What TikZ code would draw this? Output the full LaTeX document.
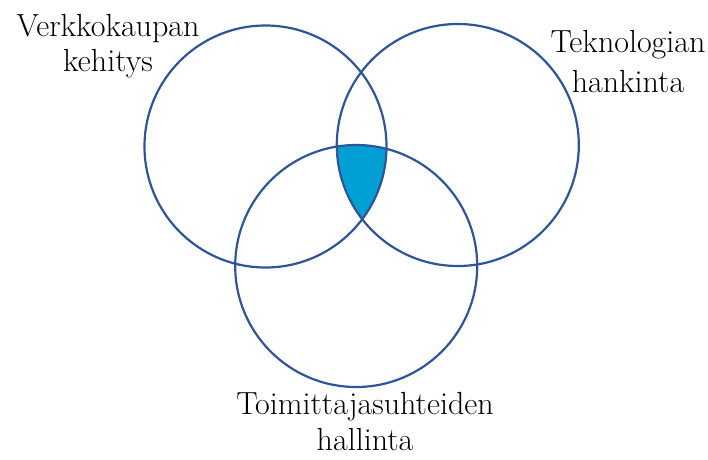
\documentclass[tikz,border=0pt]{standalone}
\usepackage{fontspec}
\usetikzlibrary{positioning}

\definecolor{ringblue}{RGB}{47,85,151}
\definecolor{coreblue}{RGB}{0,160,212}

\begin{document}
\begin{tikzpicture}[
    x=1pt, y=-1pt,
    ring/.style={
        circle, draw=ringblue, line width=2.2pt, minimum size=242pt, inner sep=0pt
    },
    lbl/.style={
        font=\fontsize{32}{37}\selectfont, align=center, anchor=north, inner sep=0pt
    }
]
\useasboundingbox (0,0) rectangle (708,459);

\coordinate (cl) at (265.5,146.5);
\coordinate (cr) at (457.8,145);
\coordinate (cb) at (356.2,266);

% common part of the three rings
\begin{scope}
    \clip (cl) circle (121);
    \clip (cr) circle (121);
    \fill[coreblue] (cb) circle (121);
\end{scope}

\node[ring] (verkko) at (cl) {};
\node[ring] (tekno) at (cr) {};
\node[ring] (toimi) at (cb) {};

\node[lbl] (verkkolbl) at (108,14.5) {Verkkokaupan\\[-2pt]kehitys};
\node[lbl] (teknolbl) at (628,30.5) {Teknologian\\[3pt]hankinta};
\node[lbl, text depth=0pt] (toimilbl) at (365,392) {Toimittajasuhteiden\\[-1pt]hallinta};

\end{tikzpicture}
\end{document}
